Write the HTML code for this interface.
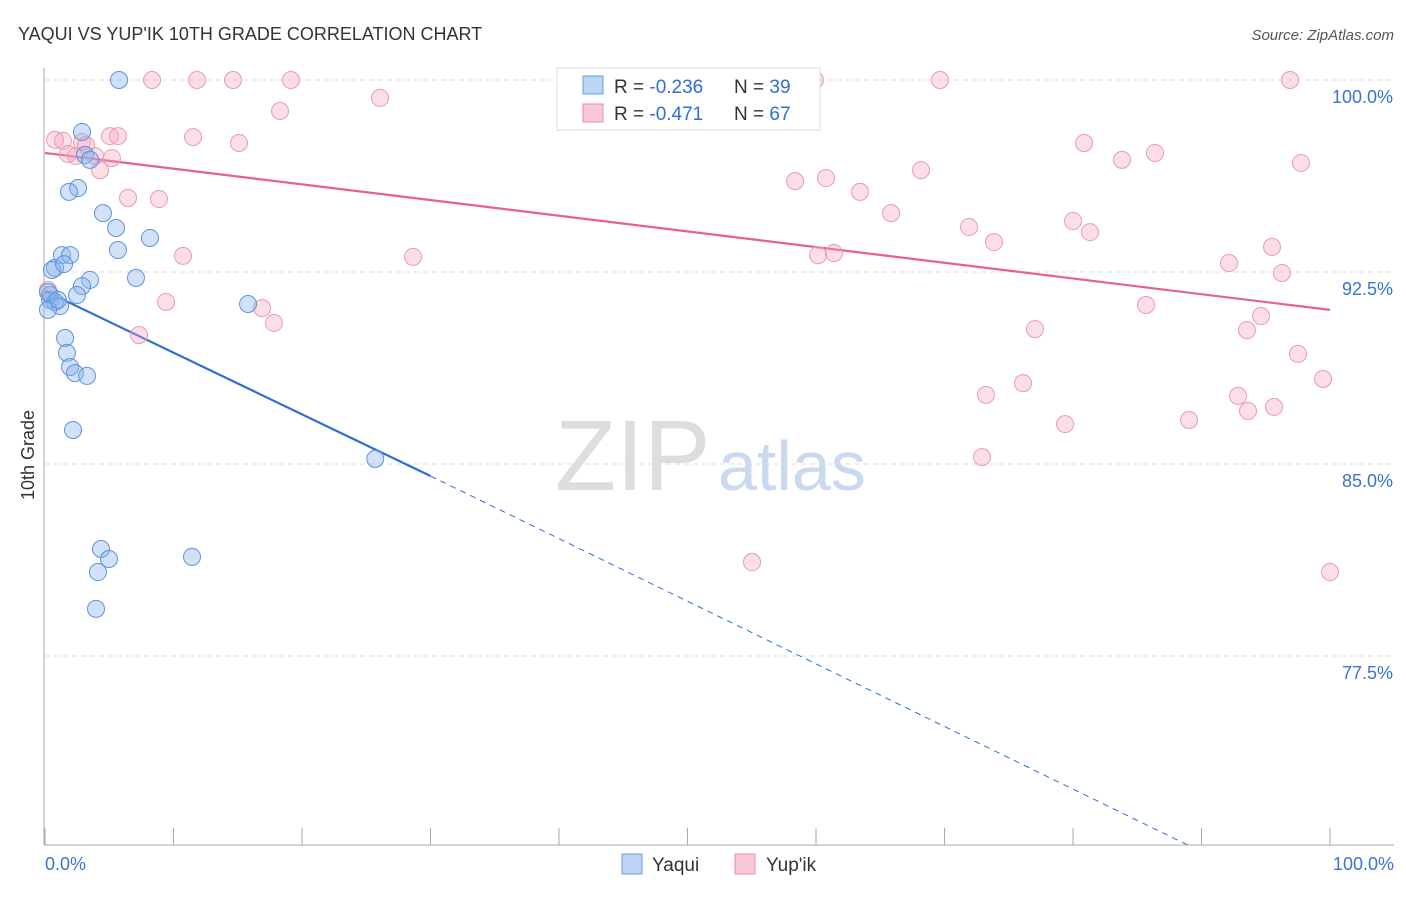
<!DOCTYPE html>
<html><head><meta charset="utf-8"><style>
body{margin:0;background:#fff;font-family:"Liberation Sans",sans-serif}
svg text{font-family:"Liberation Sans",sans-serif}
</style></head><body>
<svg id="c" width="1406" height="892">
<text x="18" y="40" font-size="18" fill="#333">YAQUI VS YUP'IK 10TH GRADE CORRELATION CHART</text>
<text x="1394" y="40" font-size="15" fill="#555" text-anchor="end" font-style="italic">Source: ZipAtlas.com</text>
<text x="555" y="490" font-size="100" fill="#ddd" font-family="Liberation Serif">ZIP</text>
<text x="718" y="490" font-size="70" fill="#c9d9f0">atlas</text>
<g id="grid"></g><g id="axes"></g><g id="trend"></g><g id="pts"></g>
<g>
<rect x="557" y="68" width="263" height="62" fill="#fff" stroke="#ddd"/>
<rect x="583" y="76" width="20" height="18" fill="#bcd4f5" stroke="#6a9de0"/>
<text x="614" y="93" font-size="19" fill="#333">R = <tspan fill="#2d6fd6">-0.236</tspan></text>
<text x="734" y="93" font-size="19" fill="#333">N = <tspan fill="#2d6fd6">39</tspan></text>
<rect x="583" y="104" width="20" height="18" fill="#f9c8d6" stroke="#e88aa8"/>
<text x="614" y="120" font-size="19" fill="#333">R = <tspan fill="#2d6fd6">-0.471</tspan></text>
<text x="734" y="120" font-size="19" fill="#333">N = <tspan fill="#2d6fd6">67</tspan></text>
</g>
<g>
<rect x="622" y="854" width="20" height="20" fill="#bcd4f5" stroke="#6a9de0"/>
<text x="652" y="871" font-size="19" fill="#333">Yaqui</text>
<rect x="735" y="854" width="20" height="20" fill="#f9c8d6" stroke="#e88aa8"/>
<text x="766" y="871" font-size="19" fill="#333">Yup'ik</text>
</g>
<text x="34" y="455" font-size="18" fill="#333" text-anchor="middle" transform="rotate(-90 34 455)">10th Grade</text>
</svg>
<script>
const yTicks=[100,92.5,85,77.5];
const yTickLabels=["100.0%","92.5%","85.0%","77.5%"];
const xLabels=["0.0%","100.0%"];
const yaquiX=[5.76,2.88,3.11,3.50,2.57,1.87,4.51,5.53,8.17,5.68,1.32,1.95,0.78,0.54,1.48,7.08,3.50,2.88,2.49,0.39,0.39,0.78,1.17,0.23,15.8,1.56,1.71,1.95,2.33,3.27,2.18,25.7,4.36,4.98,4.12,11.44,3.97,0.23,1.01];
const yaquiY=[100,97.97,97.07,96.88,95.78,95.63,94.80,94.22,93.83,93.36,93.16,93.16,92.66,92.58,92.81,92.27,92.19,91.95,91.60,91.60,91.41,91.33,91.17,91.02,91.25,89.92,89.34,88.79,88.55,88.44,86.33,85.20,81.68,81.29,80.78,81.37,79.34,91.72,91.41];
const yupikX=[8.33,11.83,14.63,19.14,41.48,50.04,59.92,69.65,96.89,26.07,18.29,0.78,1.40,5.06,5.68,11.52,15.10,2.88,3.19,1.79,2.41,3.89,5.21,4.28,6.46,8.87,10.74,28.64,9.42,16.89,17.82,7.32,0.23,80.86,86.38,83.81,97.74,68.17,60.78,58.37,63.42,65.84,80.0,71.91,81.32,73.85,60.16,61.40,95.49,92.14,96.26,85.68,94.63,93.54,77.04,97.51,99.46,76.11,73.23,92.84,95.64,93.62,79.38,89.03,72.92,55.02,100];
const yupikY=[100,100,100,100,100,100,100,100,100,99.30,98.79,97.66,97.62,97.81,97.81,97.77,97.54,97.58,97.46,97.11,97.03,97.03,96.95,96.48,95.39,95.35,93.13,93.09,91.33,91.09,90.51,90.04,91.80,97.54,97.15,96.88,96.76,96.48,96.17,96.05,95.63,94.80,94.49,94.26,94.06,93.67,93.16,93.24,93.48,92.85,92.46,91.21,90.78,90.23,90.27,89.30,88.32,88.16,87.70,87.66,87.23,87.07,86.56,86.72,85.27,81.17,80.78];
const yaquiTrend=[91.76,84.53,70.1];const yaquiTrendX=[0,30,89];
const yupikTrend=[97.15,91.02];
const NS="http://www.w3.org/2000/svg";
const X=v=>45+v*12.85, Y=v=>80+(100-v)*25.6;
function mk(t,a,p){const e=document.createElementNS(NS,t);for(const k in a)e.setAttribute(k,a[k]);p.appendChild(e);return e;}
const grid=document.getElementById('grid'),axes=document.getElementById('axes');
yTicks.forEach((t,i)=>{
 const l=mk('line',{x1:45,x2:1394,y1:Y(t),y2:Y(t),stroke:'#ddd','stroke-dasharray':'5,4'},grid);
 
 
 const tx=mk('text',{x:1393,y:Y(t)+23,'font-size':18,fill:'#3a73d4','text-anchor':'end'},axes);
 tx.textContent=yTickLabels[i];
 
 
});
mk('line',{x1:44,x2:44,y1:68,y2:845,stroke:'#aaa'},axes);
mk('line',{x1:44,x2:1394,y1:845,y2:845,stroke:'#aaa'},axes);
for(let i=0;i<=10;i++){const tk=mk('line',{x1:X(i*10),x2:X(i*10),y1:828,y2:845,stroke:'#aaa'},axes);
 
 }
const xl0=mk('text',{x:45,y:870,'font-size':18,fill:'#3a73d4'},axes);xl0.textContent=xLabels[0];


const xl1=mk('text',{x:1394,y:870,'font-size':18,fill:'#3a73d4','text-anchor':'end'},axes);xl1.textContent=xLabels[1];


const tr=document.getElementById('trend');
const t1=mk('line',{x1:X(yaquiTrendX[0]),y1:Y(yaquiTrend[0]),x2:X(yaquiTrendX[1]),y2:Y(yaquiTrend[1]),stroke:'#2d6fd6','stroke-width':2.2},tr);


const t2=mk('line',{x1:X(yaquiTrendX[1]),y1:Y(yaquiTrend[1]),x2:X(yaquiTrendX[2]),y2:Y(yaquiTrend[2]),stroke:'#2d6fd6','stroke-width':1,'stroke-dasharray':'6,5'},tr);


const t3=mk('line',{x1:X(0),y1:Y(yupikTrend[0]),x2:X(100),y2:Y(yupikTrend[1]),stroke:'#e8608c','stroke-width':2.2},tr);


const pts=document.getElementById('pts');
yupikX.forEach((v,i)=>{const c=mk('circle',{cx:X(v),cy:Y(yupikY[i]),r:8.5,fill:'rgba(245,160,185,0.35)',stroke:'#eb9ab4','stroke-width':1},pts);
 
 });
yaquiX.forEach((v,i)=>{const c=mk('circle',{cx:X(v),cy:Y(yaquiY[i]),r:8.5,fill:'rgba(140,180,235,0.4)',stroke:'#5c93e0','stroke-width':1},pts);
 
 });
</script>
</body></html>
